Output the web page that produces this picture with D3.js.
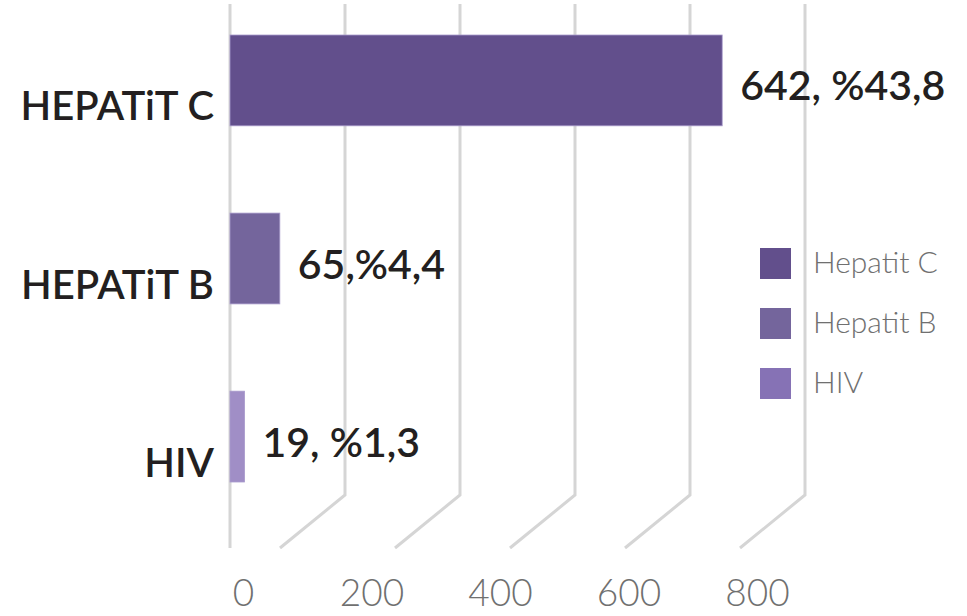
<!DOCTYPE html>
<html>
<head>
<meta charset="utf-8">
<script src="https://cdn.jsdelivr.net/npm/d3@7"></script>
<style>
  body { margin: 0; background: #fff; }
  svg { display: block; }
</style>
</head>
<body>
<svg id="chart" width="967" height="616"></svg>
<script>
"use strict";

// Data
const categories = ["HEPATiT C", "HEPATiT B", "HIV"];
const legendNames = ["Hepatit C", "Hepatit B", "HIV"];
const counts = [642, 65, 19];
const valueLabels = ["642, %43,8", "65,%4,4", "19, %1,3"];
const barColors = ["#624f8c", "#74659c", "#a08ec6"];
const legendColors = ["#624f8c", "#74659c", "#8672b5"];
const gridValues = [0, 150, 300, 450, 600, 750];
const tickLabels = [0, 200, 400, 600, 800];

var graph = {};
graph.svg = d3.select("#chart");
graph.width = +graph.svg.attr("width");
graph.height = +graph.svg.attr("height");

// Scales
var x = d3.scaleLinear()
  .domain([0, 750])
  .range([230, 805]);

var y = d3.scaleBand()
  .domain(categories)
  .range([35, 482])
  .paddingInner(0.49)
  .paddingOuter(0);

// front edge of the 3d floor, where the tick labels sit
var xLabel = d3.scaleLinear()
  .domain([0, 800])
  .range([243, 757]);

var depth = { dx: -65, dy: 53, top: 4, floor: 495 };

// Grid lines (vertical + slanted foot)
graph.grid = graph.svg.append("g").attr("class", "grid");

graph.grid.selectAll("path")
  .data(gridValues)
  .enter()
  .append("path")
  .attr("d", function(d) {
    var gx = x(d);
    if (d === 0) {
      return "M" + gx + "," + depth.top + "V" + (depth.floor + depth.dy);
    }
    return "M" + gx + "," + depth.top + "V" + depth.floor +
      "L" + (gx + depth.dx) + "," + (depth.floor + depth.dy);
  })
  .attr("fill", "none")
  .attr("stroke", "#d5d5d5")
  .attr("stroke-width", 3);

// Bars
graph.bars = graph.svg.append("g").attr("class", "bars");

graph.bars.selectAll("rect")
  .data(categories)
  .enter()
  .append("rect")
  .attr("x", x(0))
  .attr("y", (d) => y(d))
  .attr("width", (d, i) => x(counts[i]) - x(0))
  .attr("height", y.bandwidth())
  .attr("fill", (d, i) => barColors[i])
  .attr("stroke", "#a99bcc")
  .attr("stroke-width", 0.8);

// Category labels
graph.svg.append("g")
  .selectAll("text")
  .data(categories)
  .enter()
  .append("text")
  .attr("x", 214)
  .attr("y", (d) => y(d) + y.bandwidth() / 2 + 40)
  .attr("text-anchor", "end")
  .attr("font-family", "Lato, sans-serif")
  .attr("font-weight", 600)
  .attr("font-size", 40)
  .attr("fill", "#231f20")
  .text((d) => d);

// Value labels
graph.svg.append("g")
  .selectAll("text")
  .data(categories)
  .enter()
  .append("text")
  .attr("x", (d, i) => x(counts[i]) + 18)
  .attr("y", (d) => y(d) + y.bandwidth() / 2 + 20)
  .attr("font-family", "Lato, sans-serif")
  .attr("font-weight", 600)
  .attr("font-size", 41)
  .attr("fill", "#231f20")
  .text((d, i) => valueLabels[i]);

// Bottom axis labels
var xAxis = d3.axisBottom(xLabel)
  .tickValues(tickLabels)
  .tickSize(0)
  .tickPadding(0)
  .tickFormat(d3.format("d"));

graph.gX = graph.svg.append("g")
  .attr("transform", "translate(0,580)")
  .call(xAxis);

graph.gX.select(".domain").remove();
graph.gX.selectAll("text")
  .attr("dy", "0.71em")
  .attr("font-family", "Lato, sans-serif")
  .attr("font-weight", 300)
  .attr("font-size", 37)
  .attr("fill", "#707070");

// Legend
graph.legend = graph.svg.append("g")
  .attr("class", "legend")
  .attr("transform", "translate(760,248)");

var row = graph.legend.selectAll("g")
  .data(legendNames)
  .enter()
  .append("g")
  .attr("transform", (d, i) => "translate(0," + (i * 60) + ")");

row.append("rect")
  .attr("width", 31)
  .attr("height", 31)
  .attr("fill", (d, i) => legendColors[i]);

row.append("text")
  .attr("x", 53)
  .attr("y", 25)
  .attr("font-family", "Lato, sans-serif")
  .attr("font-weight", 300)
  .attr("font-size", 30)
  .attr("fill", "#707070")
  .text((d) => d);
</script>
</body>
</html>
